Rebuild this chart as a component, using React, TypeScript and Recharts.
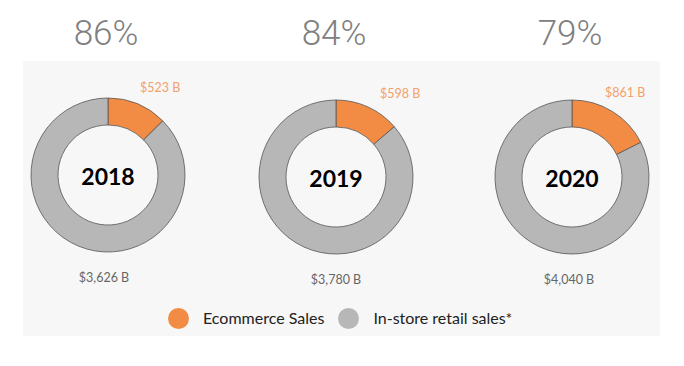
import { PieChart, Pie, Cell } from 'recharts';

const years = ['2018', '2019', '2020'];
const shares = ['86%', '84%', '79%'];
const ecommerce = [523, 598, 861];
const inStore = [3626, 3780, 4040];
const seriesNames = ['Ecommerce Sales', 'In-store retail sales*'];
const colors = ['#f28c45', '#b7b7b7'];

const layout = [
  { cx: 108, cy: 175, dx: 32, dy: -88, bx: -4 },
  { cx: 336, cy: 177, dx: 44, dy: -84, bx: 0 },
  { cx: 572, cy: 177, dx: 33, dy: -85, bx: -3 },
];

const fmt = (v: number) => `$${v.toLocaleString('en-US')} B`;
const font = 'Lato, "Open Sans", sans-serif';

function makeLabel(i: number) {
  const l = layout[i];
  return (props: any) => {
    const { cx, cy, index, value } = props;
    if (index === 0) {
      return (
        <text x={cx + l.dx} y={cy + l.dy} textAnchor="start" dominantBaseline="central"
          fill="#f4a068" fontSize={12.5} fontFamily={font}>
          {fmt(value)}
        </text>
      );
    }
    return (
      <text x={cx + l.bx} y={cy + 102} textAnchor="middle" dominantBaseline="central"
        fill="#666" fontSize={12.5} fontFamily={font}>
        {fmt(value)}
      </text>
    );
  };
}

export default function App() {
  return (
    <div style={{ position: 'absolute', left: 0, top: 0, width: 684, height: 366, background: '#fff', fontFamily: font }}>
      {shares.map((s, i) => (
        <div key={s} style={{
          position: 'absolute', left: layout[i].cx - 62, top: 13, width: 120, textAlign: 'center',
          fontFamily: 'Roboto, sans-serif', fontWeight: 300, fontSize: 35, color: '#808080', lineHeight: '42px',
        }}>{s}</div>
      ))}
      <div style={{ position: 'absolute', left: 23, top: 61, width: 637, height: 275, background: '#f7f7f7' }} />
      <div style={{ position: 'absolute', left: 0, top: 0 }}>
        <PieChart width={684} height={366} margin={{ top: 0, right: 0, bottom: 0, left: 0 }}>
          {years.map((y, i) => (
            <Pie
              key={y}
              data={[
                { name: seriesNames[0], value: ecommerce[i] },
                { name: seriesNames[1], value: inStore[i] },
              ]}
              dataKey="value"
              cx={layout[i].cx}
              cy={layout[i].cy}
              innerRadius={50}
              outerRadius={77}
              startAngle={90}
              endAngle={-270}
              stroke="#555"
              strokeWidth={0.8}
              label={makeLabel(i)}
              labelLine={false}
              isAnimationActive={false}
            >
              {colors.map((c) => <Cell key={c} fill={c} />)}
            </Pie>
          ))}
          {years.map((y, i) => (
            <text key={'t' + y} x={layout[i].cx} y={layout[i].cy + 1} textAnchor="middle" dominantBaseline="central"
              fontFamily={font} fontWeight={700} fontSize={23} fill="#000">{y}</text>
          ))}
        </PieChart>
      </div>
      <div style={{ position: 'absolute', left: 168, top: 307, display: 'flex', alignItems: 'center', fontSize: 16, color: '#222', lineHeight: '22px' }}>
        {seriesNames.map((n, i) => (
          <div key={n} style={{ display: 'flex', alignItems: 'center', marginRight: 14 }}>
            <span style={{ width: 21, height: 21, borderRadius: '50%', background: colors[i], display: 'inline-block', marginRight: 14 }} />
            <span>{n}</span>
          </div>
        ))}
      </div>
    </div>
  );
}
